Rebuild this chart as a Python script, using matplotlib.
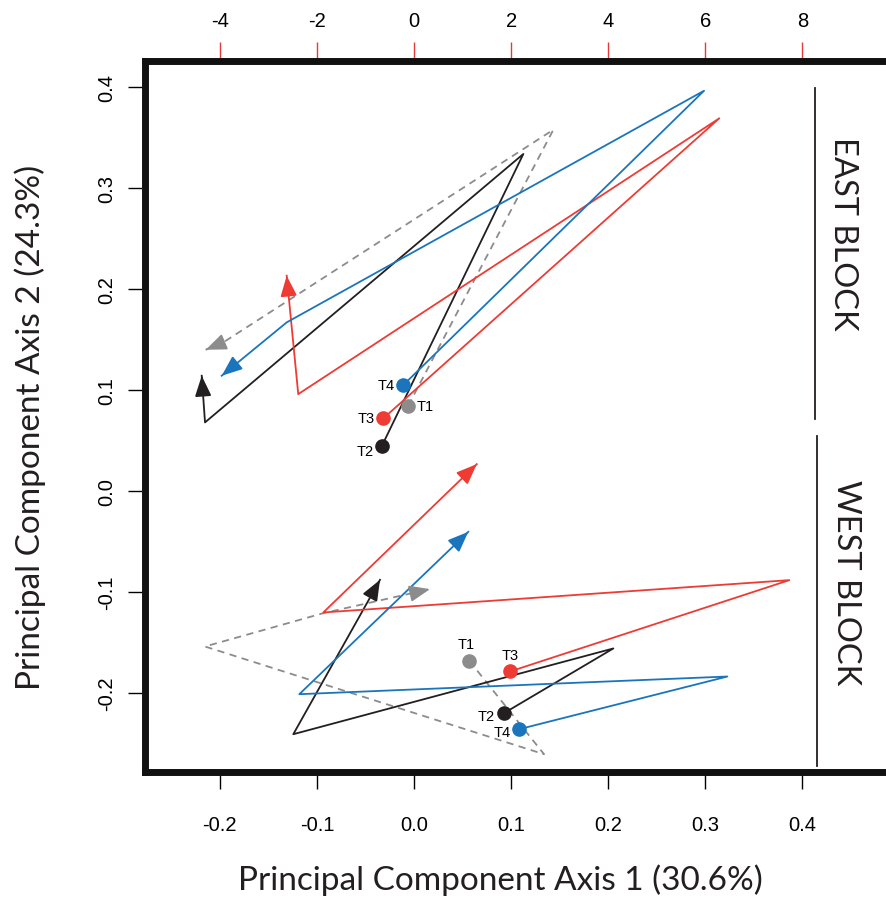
import matplotlib
matplotlib.use("Agg")
from matplotlib import pyplot as plt

# trajectories in PCA space, first point = starting dot, last point = arrow tip
labels = ["T1", "T2", "T3", "T4"]
colors = ["#8c8c8c", "#231f20", "#ee3b33", "#1b75bc"]

east_x = [[-0.006, 0.1435, -0.1964, -0.2145],
          [-0.0333, 0.1126, -0.2152, -0.2186],
          [-0.0316, 0.3144, -0.1192, -0.1311],
          [-0.011, 0.2987, -0.1311, -0.198]]
east_y = [[0.0845, 0.3577, 0.1472, 0.1399],
          [0.0443, 0.3337, 0.068, 0.1142],
          [0.072, 0.369, 0.096, 0.2132],
          [0.105, 0.3963, 0.167, 0.1142]]

west_x = [[0.057, 0.1339, -0.2152, -0.0934, 0.0165],
          [0.0922, 0.2053, -0.1243, -0.035],
          [0.0989, 0.3865, -0.0934, 0.0646],
          [0.1084, 0.3227, -0.1181, 0.0559]]
west_y = [[-0.168, -0.2604, -0.1538, -0.1208, -0.097],
          [-0.22, -0.1557, -0.2406, -0.0878],
          [-0.1785, -0.0881, -0.1201, 0.0267],
          [-0.2356, -0.1835, -0.201, -0.0403]]

# label offsets (points) for the T dots
east_off = [(6, 0, "left", "center"), (-6, -3, "right", "center"),
            (-6, 0, "right", "center"), (-6, 0, "right", "center")]
west_off = [(-2, 7, "center", "bottom"), (-6, -2, "right", "center"),
            (0, 7, "center", "bottom"), (-6, -2, "right", "center")]

xticks = [-0.2, -0.1, 0.0, 0.1, 0.2, 0.3, 0.4]
yticks = [-0.2, -0.1, 0.0, 0.1, 0.2, 0.3, 0.4]
topticks = [-4, -2, 0, 2, 4, 6, 8]

label_font = ["Lato", "DejaVu Sans"]
tick_font = ["Liberation Sans Narrow", "Liberation Sans", "DejaVu Sans"]

fig = plt.figure(figsize=(8.86, 9.03), dpi=100)
ax = fig.add_axes([145 / 886, 130 / 903, 774 / 886, 711 / 903])
ax.set_xlim(-0.277, 0.52)
ax.set_ylim(-0.278, 0.4257)


def draw_path(xs, ys, col, dashed):
    ls = (0, (4, 3)) if dashed else "-"
    ax.plot(xs, ys, color=col, lw=1.3, ls=ls, zorder=2)
    dx = xs[-1] - xs[-2]
    dy = ys[-1] - ys[-2]
    ax.annotate("", xy=(xs[-1], ys[-1]), xytext=(xs[-1] - dx * 0.05, ys[-1] - dy * 0.05),
                arrowprops=dict(arrowstyle="-|>,head_length=0.9,head_width=0.36",
                                color=col, lw=1.3, mutation_scale=14,
                                shrinkA=0, shrinkB=0), zorder=3)
    ax.plot(xs[0], ys[0], "o", color=col, ms=9.5, zorder=4)


for block_x, block_y, offs in [(east_x, east_y, east_off), (west_x, west_y, west_off)]:
    for i in range(4):
        draw_path(block_x[i], block_y[i], colors[i], i == 0)
        ox, oy, ha, va = offs[i]
        ax.annotate(labels[i], (block_x[i][0], block_y[i][0]), xytext=(ox, oy),
                    textcoords="offset points", ha=ha, va=va, fontsize=10.5,
                    family=["Liberation Sans", "DejaVu Sans"], zorder=5)

# block separators and names
ax.plot([0.413, 0.413], [0.399, 0.071], color="#231f20", lw=1.3)
ax.plot([0.415, 0.415], [0.055, -0.272], color="#231f20", lw=1.3)
ax.text(0.442, 0.256, "EAST BLOCK", rotation=-90, ha="center", va="center",
        fontsize=23.5, family=label_font, color="#231f20")
ax.text(0.445, -0.090, "WEST BLOCK", rotation=-90, ha="center", va="center",
        fontsize=23.5, family=label_font, color="#231f20")

for s in ax.spines.values():
    s.set_linewidth(5)
    s.set_color("#111111")

ax.set_xticks(xticks)
ax.set_xticklabels(["%.1f" % v for v in xticks])
ax.set_yticks(yticks)
ax.set_yticklabels(["%.1f" % v for v in yticks], rotation=90, va="center")
ax.tick_params(axis="x", direction="out", length=12, width=1, pad=19, labelsize=14.5)
ax.tick_params(axis="y", direction="out", length=12, width=1, pad=9, labelsize=14.5)
for t in ax.get_xticklabels() + ax.get_yticklabels():
    t.set_family(tick_font)

sec = ax.secondary_xaxis("top", functions=(lambda v: v * 20, lambda v: v / 20))
sec.set_xticks(topticks)
sec.set_xticklabels([str(v) for v in topticks])
sec.tick_params(axis="x", direction="out", length=14, width=1, color="#e8393a",
                pad=8, labelsize=14.5)
sec.spines["top"].set_visible(False)
for t in sec.get_xticklabels():
    t.set_family(tick_font)

fig.text(500 / 886, 1 - 880 / 903, "Principal Component Axis 1 (30.6%)",
         ha="center", va="center", fontsize=24, family=label_font, color="#231f20")
fig.text(30 / 886, 1 - 427 / 903, "Principal Component Axis 2 (24.3%)",
         ha="center", va="center", rotation=90, fontsize=24, family=label_font,
         color="#231f20")

fig.savefig("out.png", dpi=100)
